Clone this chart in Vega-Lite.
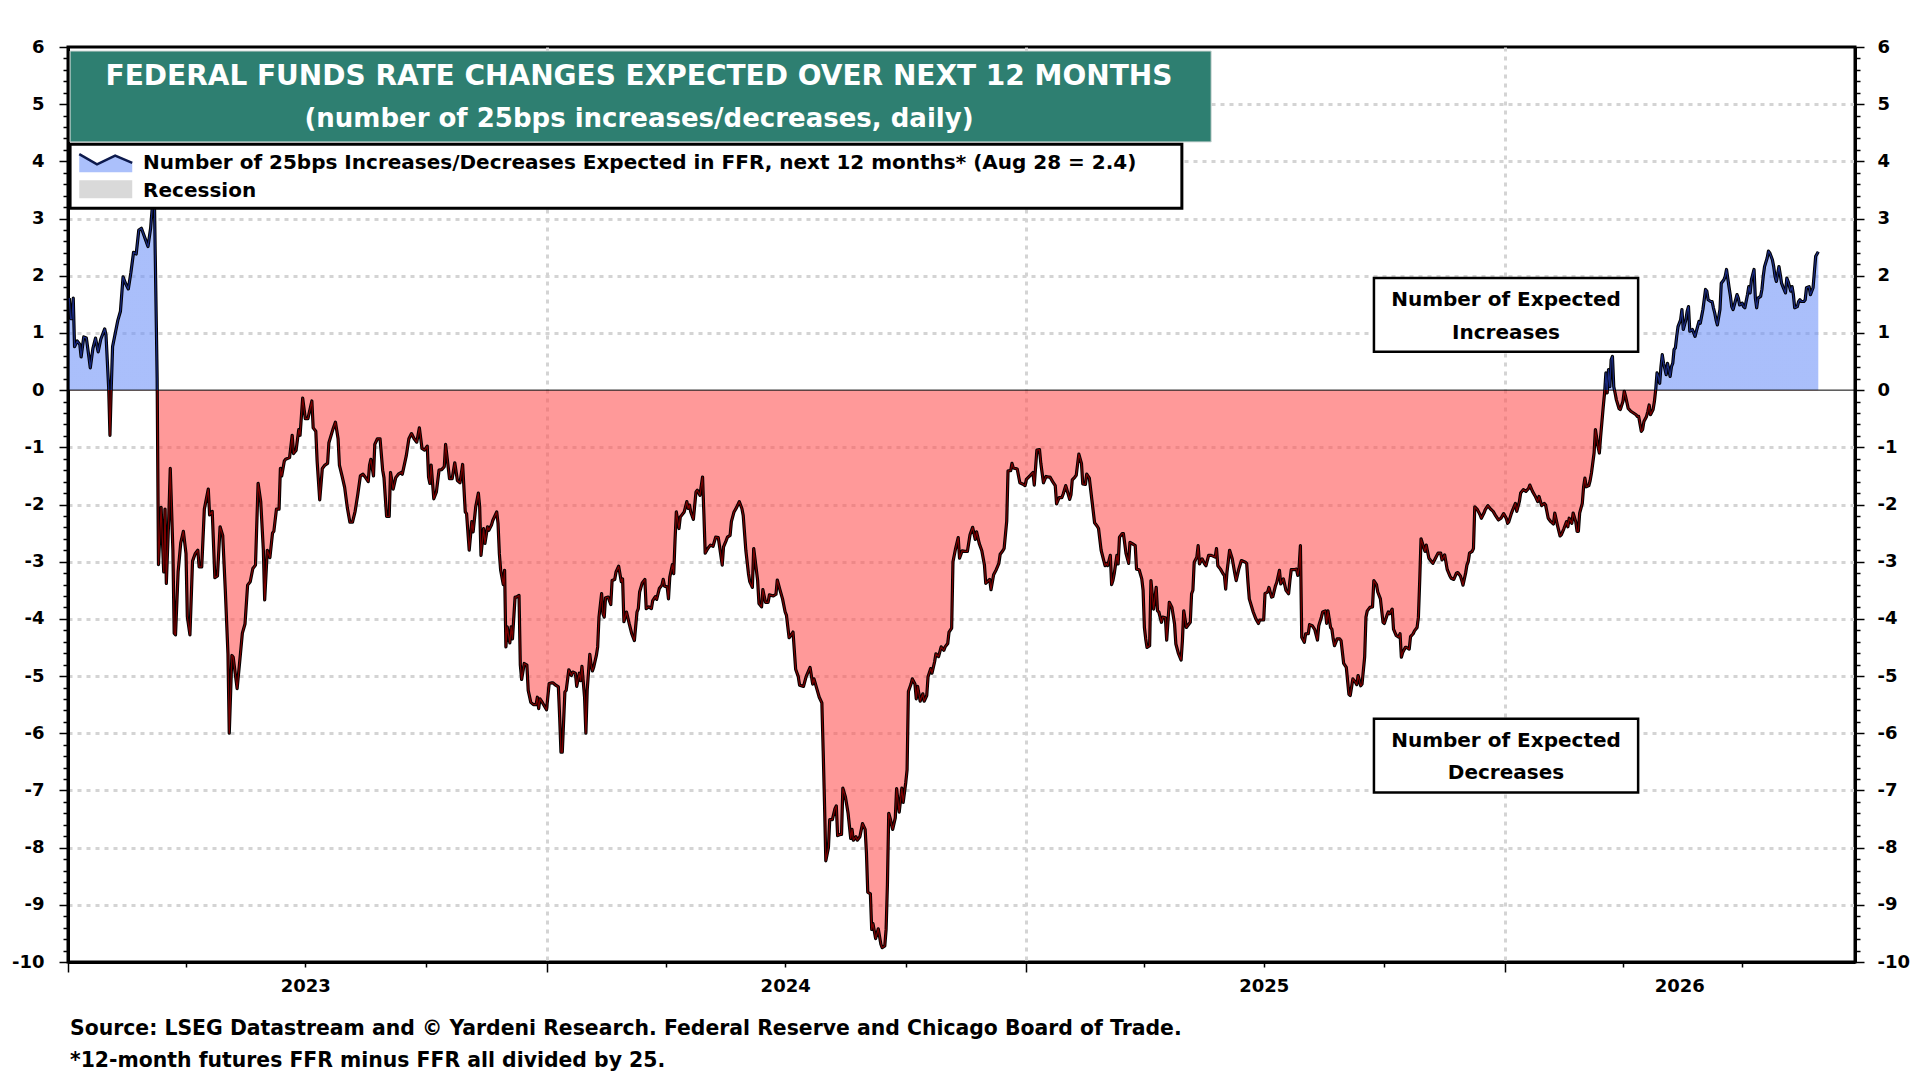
{
  "$schema": "https://vega.github.io/schema/vega-lite/v6.json",
  "width": 1787,
  "height": 915,
  "autosize": {"type": "none"},
  "padding": {"left": 68, "top": 47, "right": 65, "bottom": 118},
  "background": "white",
  "title": {
    "text": ["Source: LSEG Datastream and © Yardeni Research. Federal Reserve and Chicago Board of Trade.", "*12-month futures FFR minus FFR all divided by 25."],
    "orient": "bottom", "anchor": "start", "frame": "group",
    "font": "DejaVu Sans", "fontSize": 20.4, "fontWeight": "bold", "color": "black",
    "lineHeight": 32, "offset": 18.5, "dx": 2
  },
  "config": {
    "font": "DejaVu Sans",
    "view": {"stroke": "black", "strokeWidth": 3},
    "text": {"font": "DejaVu Sans", "fontWeight": "bold"}
  },
  "datasets": {
    "ffr": [
      {"d":"2023-01-02","v":1.61},{"d":"2023-01-03","v":1.25},{"d":"2023-01-04","v":1.25},{"d":"2023-01-05","v":1.61},{"d":"2023-01-06","v":0.76},{"d":"2023-01-08","v":0.86},{"d":"2023-01-10","v":0.80},{"d":"2023-01-11","v":0.58},{"d":"2023-01-13","v":0.93},{"d":"2023-01-15","v":0.91},{"d":"2023-01-17","v":0.57},{"d":"2023-01-18","v":0.39},{"d":"2023-01-20","v":0.73},{"d":"2023-01-22","v":0.91},{"d":"2023-01-24","v":0.67},{"d":"2023-01-26","v":0.89},{"d":"2023-01-29","v":1.07},{"d":"2023-01-30","v":0.96},{"d":"2023-02-01","v":0.05},{"d":"2023-02-02","v":-0.79},{"d":"2023-02-03","v":0.05},{"d":"2023-02-04","v":0.76},{"d":"2023-02-06","v":0.99},{"d":"2023-02-08","v":1.22},{"d":"2023-02-10","v":1.38},{"d":"2023-02-12","v":1.98},{"d":"2023-02-14","v":1.86},{"d":"2023-02-16","v":1.77},{"d":"2023-02-18","v":2.06},{"d":"2023-02-20","v":2.41},{"d":"2023-02-22","v":2.38},{"d":"2023-02-24","v":2.80},{"d":"2023-02-26","v":2.83},{"d":"2023-03-01","v":2.64},{"d":"2023-03-03","v":2.51},{"d":"2023-03-05","v":2.83},{"d":"2023-03-07","v":3.40},{"d":"2023-03-08","v":3.20},{"d":"2023-03-10","v":0.20},{"d":"2023-03-11","v":-3.05},
      {"d":"2023-03-13","v":-2.05},{"d":"2023-03-15","v":-3.18},{"d":"2023-03-16","v":-2.08},{"d":"2023-03-17","v":-3.38},{"d":"2023-03-19","v":-2.15},{"d":"2023-03-20","v":-1.37},{"d":"2023-03-22","v":-2.80},{"d":"2023-03-23","v":-4.25},{"d":"2023-03-24","v":-4.28},{"d":"2023-03-26","v":-3.18},{"d":"2023-03-28","v":-2.67},{"d":"2023-03-30","v":-2.47},{"d":"2023-04-01","v":-2.86},{"d":"2023-04-02","v":-3.96},{"d":"2023-04-04","v":-4.28},{"d":"2023-04-06","v":-2.99},{"d":"2023-04-08","v":-2.86},{"d":"2023-04-10","v":-2.80},{"d":"2023-04-11","v":-3.09},{"d":"2023-04-13","v":-3.09},{"d":"2023-04-15","v":-2.08},{"d":"2023-04-18","v":-1.73},{"d":"2023-04-19","v":-2.18},{"d":"2023-04-21","v":-2.12},{"d":"2023-04-23","v":-3.28},{"d":"2023-04-25","v":-3.25},{"d":"2023-04-27","v":-2.39},{"d":"2023-04-29","v":-2.54},{"d":"2023-05-01","v":-3.51},{"d":"2023-05-03","v":-4.61},{"d":"2023-05-04","v":-6.00},{"d":"2023-05-06","v":-4.64},{"d":"2023-05-07","v":-4.67},{"d":"2023-05-10","v":-5.22},{"d":"2023-05-12","v":-4.74},{"d":"2023-05-14","v":-4.25},{"d":"2023-05-16","v":-4.09},{"d":"2023-05-18","v":-3.41},{"d":"2023-05-20","v":-3.35},{"d":"2023-05-22","v":-3.12},{"d":"2023-05-24","v":-3.06},{"d":"2023-05-26","v":-1.63},{"d":"2023-05-28","v":-1.95},{"d":"2023-05-30","v":-2.80},{"d":"2023-05-31","v":-3.67},
      {"d":"2023-06-02","v":-2.80},{"d":"2023-06-04","v":-2.93},{"d":"2023-06-06","v":-2.50},{"d":"2023-06-07","v":-2.47},{"d":"2023-06-09","v":-2.08},{"d":"2023-06-11","v":-2.08},{"d":"2023-06-12","v":-1.37},{"d":"2023-06-13","v":-1.50},{"d":"2023-06-15","v":-1.24},{"d":"2023-06-16","v":-1.21},{"d":"2023-06-19","v":-1.18},{"d":"2023-06-21","v":-0.79},{"d":"2023-06-22","v":-1.11},{"d":"2023-06-24","v":-1.05},{"d":"2023-06-26","v":-0.69},{"d":"2023-06-27","v":-0.79},{"d":"2023-06-29","v":-0.14},{"d":"2023-07-01","v":-0.50},{"d":"2023-07-03","v":-0.50},{"d":"2023-07-06","v":-0.19},{"d":"2023-07-07","v":-0.66},{"d":"2023-07-09","v":-0.72},{"d":"2023-07-10","v":-1.24},{"d":"2023-07-12","v":-1.92},{"d":"2023-07-14","v":-1.37},{"d":"2023-07-16","v":-1.31},{"d":"2023-07-18","v":-1.28},{"d":"2023-07-19","v":-0.92},{"d":"2023-07-22","v":-0.69},{"d":"2023-07-24","v":-0.56},{"d":"2023-07-26","v":-0.85},{"d":"2023-07-27","v":-1.31},{"d":"2023-07-29","v":-1.50},{"d":"2023-07-31","v":-1.70},{"d":"2023-08-02","v":-2.05},{"d":"2023-08-04","v":-2.31},{"d":"2023-08-06","v":-2.31},{"d":"2023-08-08","v":-2.12},{"d":"2023-08-10","v":-1.83},{"d":"2023-08-12","v":-1.50},{"d":"2023-08-14","v":-1.47},{"d":"2023-08-16","v":-1.53},{"d":"2023-08-18","v":-1.60},{"d":"2023-08-19","v":-1.31},{"d":"2023-08-20","v":-1.21},{"d":"2023-08-22","v":-1.50},{"d":"2023-08-23","v":-0.95},{"d":"2023-08-25","v":-0.85},{"d":"2023-08-27","v":-0.85},{"d":"2023-08-29","v":-1.40},{"d":"2023-08-30","v":-1.53},
      {"d":"2023-09-01","v":-2.21},{"d":"2023-09-03","v":-2.21},{"d":"2023-09-04","v":-1.44},{"d":"2023-09-06","v":-1.73},{"d":"2023-09-08","v":-1.53},{"d":"2023-09-10","v":-1.47},{"d":"2023-09-12","v":-1.44},{"d":"2023-09-13","v":-1.47},{"d":"2023-09-16","v":-1.15},{"d":"2023-09-18","v":-0.85},{"d":"2023-09-20","v":-0.76},{"d":"2023-09-22","v":-0.85},{"d":"2023-09-24","v":-0.91},{"d":"2023-09-26","v":-0.66},{"d":"2023-09-28","v":-1.02},{"d":"2023-09-30","v":-1.05},{"d":"2023-10-02","v":-0.98},{"d":"2023-10-03","v":-1.52},{"d":"2023-10-04","v":-1.63},{"d":"2023-10-05","v":-1.31},{"d":"2023-10-07","v":-1.90},{"d":"2023-10-09","v":-1.78},{"d":"2023-10-11","v":-1.40},{"d":"2023-10-13","v":-1.39},{"d":"2023-10-15","v":-1.34},{"d":"2023-10-16","v":-0.95},{"d":"2023-10-19","v":-1.55},{"d":"2023-10-21","v":-1.55},{"d":"2023-10-23","v":-1.27},{"d":"2023-10-25","v":-1.58},{"d":"2023-10-27","v":-1.62},{"d":"2023-10-29","v":-1.30},{"d":"2023-10-31","v":-2.13},{"d":"2023-11-01","v":-2.16},{"d":"2023-11-03","v":-2.80},{"d":"2023-11-05","v":-2.30},{"d":"2023-11-06","v":-2.48},{"d":"2023-11-08","v":-2.04},{"d":"2023-11-10","v":-1.80},{"d":"2023-11-11","v":-2.04},{"d":"2023-11-12","v":-2.89},{"d":"2023-11-14","v":-2.42},{"d":"2023-11-15","v":-2.68},{"d":"2023-11-17","v":-2.39},{"d":"2023-11-18","v":-2.45},{"d":"2023-11-20","v":-2.36},{"d":"2023-11-21","v":-2.28},{"d":"2023-11-24","v":-2.13},{"d":"2023-11-25","v":-2.33},{"d":"2023-11-26","v":-2.86},{"d":"2023-11-27","v":-3.15},{"d":"2023-11-29","v":-3.40},{"d":"2023-11-30","v":-3.15},
      {"d":"2023-12-01","v":-4.49},{"d":"2023-12-02","v":-4.14},{"d":"2023-12-04","v":-4.42},{"d":"2023-12-05","v":-4.14},{"d":"2023-12-06","v":-4.35},{"d":"2023-12-08","v":-3.62},{"d":"2023-12-09","v":-3.62},{"d":"2023-12-11","v":-3.59},{"d":"2023-12-12","v":-4.81},{"d":"2023-12-13","v":-5.06},{"d":"2023-12-15","v":-4.78},{"d":"2023-12-17","v":-4.81},{"d":"2023-12-18","v":-5.25},{"d":"2023-12-20","v":-5.46},{"d":"2023-12-22","v":-5.50},{"d":"2023-12-24","v":-5.50},{"d":"2023-12-25","v":-5.37},{"d":"2023-12-26","v":-5.57},{"d":"2023-12-27","v":-5.40},{"d":"2023-12-29","v":-5.47},{"d":"2024-01-01","v":-5.59},{"d":"2024-01-03","v":-5.13},{"d":"2024-01-05","v":-5.12},{"d":"2024-01-06","v":-5.12},{"d":"2024-01-08","v":-5.16},{"d":"2024-01-10","v":-5.19},{"d":"2024-01-11","v":-5.72},{"d":"2024-01-12","v":-6.33},{"d":"2024-01-13","v":-6.33},{"d":"2024-01-15","v":-5.28},{"d":"2024-01-16","v":-5.25},{"d":"2024-01-18","v":-4.89},{"d":"2024-01-20","v":-4.99},{"d":"2024-01-21","v":-4.93},{"d":"2024-01-23","v":-4.95},{"d":"2024-01-24","v":-5.18},{"d":"2024-01-26","v":-4.95},{"d":"2024-01-27","v":-5.08},{"d":"2024-01-28","v":-4.83},{"d":"2024-01-30","v":-5.37},{"d":"2024-01-31","v":-6.00},{"d":"2024-02-01","v":-5.25},{"d":"2024-02-03","v":-4.62},{"d":"2024-02-04","v":-4.81},{"d":"2024-02-05","v":-4.91},{"d":"2024-02-06","v":-4.84},{"d":"2024-02-08","v":-4.64},{"d":"2024-02-09","v":-4.49},{"d":"2024-02-10","v":-3.97},{"d":"2024-02-12","v":-3.56},{"d":"2024-02-13","v":-3.91},{"d":"2024-02-14","v":-3.97},{"d":"2024-02-15","v":-3.63},{"d":"2024-02-17","v":-3.62},{"d":"2024-02-19","v":-3.75},{"d":"2024-02-20","v":-3.33},{"d":"2024-02-22","v":-3.31},{"d":"2024-02-23","v":-3.18},{"d":"2024-02-25","v":-3.08},{"d":"2024-02-27","v":-3.35},{"d":"2024-02-28","v":-3.30},{"d":"2024-02-29","v":-4.05},
      {"d":"2024-03-02","v":-3.88},{"d":"2024-03-04","v":-4.08},{"d":"2024-03-06","v":-4.26},{"d":"2024-03-08","v":-4.38},{"d":"2024-03-10","v":-3.88},{"d":"2024-03-11","v":-3.82},{"d":"2024-03-12","v":-3.53},{"d":"2024-03-14","v":-3.37},{"d":"2024-03-16","v":-3.31},{"d":"2024-03-17","v":-3.82},{"d":"2024-03-19","v":-3.79},{"d":"2024-03-21","v":-3.82},{"d":"2024-03-22","v":-3.68},{"d":"2024-03-24","v":-3.61},{"d":"2024-03-25","v":-3.66},{"d":"2024-03-27","v":-3.47},{"d":"2024-03-29","v":-3.41},{"d":"2024-03-30","v":-3.31},{"d":"2024-03-31","v":-3.43},{"d":"2024-04-02","v":-3.44},{"d":"2024-04-03","v":-3.65},{"d":"2024-04-04","v":-3.27},{"d":"2024-04-06","v":-3.05},{"d":"2024-04-07","v":-3.21},{"d":"2024-04-08","v":-2.63},{"d":"2024-04-09","v":-2.13},{"d":"2024-04-11","v":-2.42},{"d":"2024-04-12","v":-2.22},{"d":"2024-04-13","v":-2.19},{"d":"2024-04-15","v":-2.13},{"d":"2024-04-17","v":-1.95},{"d":"2024-04-18","v":-2.07},{"d":"2024-04-19","v":-2.01},{"d":"2024-04-20","v":-2.13},{"d":"2024-04-22","v":-2.26},{"d":"2024-04-24","v":-1.78},{"d":"2024-04-25","v":-1.75},{"d":"2024-04-27","v":-1.84},{"d":"2024-04-29","v":-1.52},{"d":"2024-04-30","v":-2.16},{"d":"2024-05-01","v":-2.85},{"d":"2024-05-03","v":-2.77},{"d":"2024-05-05","v":-2.71},{"d":"2024-05-07","v":-2.73},{"d":"2024-05-09","v":-2.57},{"d":"2024-05-11","v":-2.58},{"d":"2024-05-12","v":-2.74},{"d":"2024-05-14","v":-3.06},{"d":"2024-05-15","v":-2.74},{"d":"2024-05-17","v":-2.63},{"d":"2024-05-18","v":-2.57},{"d":"2024-05-20","v":-2.54},{"d":"2024-05-21","v":-2.30},{"d":"2024-05-23","v":-2.13},{"d":"2024-05-25","v":-2.05},{"d":"2024-05-27","v":-1.95},{"d":"2024-05-29","v":-2.07},{"d":"2024-05-30","v":-2.19},
      {"d":"2024-06-01","v":-2.80},{"d":"2024-06-03","v":-3.21},{"d":"2024-06-04","v":-3.35},{"d":"2024-06-06","v":-3.45},{"d":"2024-06-07","v":-2.77},{"d":"2024-06-08","v":-2.95},{"d":"2024-06-10","v":-3.33},{"d":"2024-06-11","v":-3.73},{"d":"2024-06-13","v":-3.79},{"d":"2024-06-14","v":-3.49},{"d":"2024-06-16","v":-3.71},{"d":"2024-06-18","v":-3.71},{"d":"2024-06-19","v":-3.58},{"d":"2024-06-22","v":-3.60},{"d":"2024-06-24","v":-3.57},{"d":"2024-06-25","v":-3.32},{"d":"2024-06-27","v":-3.49},{"d":"2024-06-29","v":-3.65},{"d":"2024-07-01","v":-3.88},{"d":"2024-07-02","v":-3.94},{"d":"2024-07-04","v":-4.33},{"d":"2024-07-06","v":-4.27},{"d":"2024-07-07","v":-4.23},{"d":"2024-07-09","v":-4.88},{"d":"2024-07-11","v":-5.01},{"d":"2024-07-12","v":-5.16},{"d":"2024-07-15","v":-5.18},{"d":"2024-07-17","v":-5.01},{"d":"2024-07-20","v":-4.85},{"d":"2024-07-22","v":-5.14},{"d":"2024-07-23","v":-5.05},{"d":"2024-07-25","v":-5.21},{"d":"2024-07-27","v":-5.37},{"d":"2024-07-29","v":-5.47},{"d":"2024-07-30","v":-6.31},{"d":"2024-07-31","v":-7.22},{"d":"2024-08-01","v":-8.23},{"d":"2024-08-03","v":-8.00},{"d":"2024-08-04","v":-7.51},{"d":"2024-08-06","v":-7.51},{"d":"2024-08-08","v":-7.32},{"d":"2024-08-09","v":-7.27},{"d":"2024-08-10","v":-7.79},{"d":"2024-08-12","v":-7.77},{"d":"2024-08-13","v":-7.77},{"d":"2024-08-14","v":-6.96},{"d":"2024-08-16","v":-7.12},{"d":"2024-08-18","v":-7.40},{"d":"2024-08-20","v":-7.84},{"d":"2024-08-21","v":-7.68},{"d":"2024-08-22","v":-7.87},{"d":"2024-08-24","v":-7.81},{"d":"2024-08-25","v":-7.87},{"d":"2024-08-27","v":-7.81},{"d":"2024-08-29","v":-7.58},{"d":"2024-08-31","v":-7.68},
      {"d":"2024-09-01","v":-8.10},{"d":"2024-09-02","v":-8.78},{"d":"2024-09-04","v":-8.81},{"d":"2024-09-05","v":-9.43},{"d":"2024-09-06","v":-9.33},{"d":"2024-09-08","v":-9.59},{"d":"2024-09-10","v":-9.42},{"d":"2024-09-12","v":-9.69},{"d":"2024-09-13","v":-9.75},{"d":"2024-09-15","v":-9.72},{"d":"2024-09-16","v":-9.43},{"d":"2024-09-17","v":-8.65},{"d":"2024-09-18","v":-7.40},{"d":"2024-09-19","v":-7.48},{"d":"2024-09-21","v":-7.68},{"d":"2024-09-23","v":-7.48},{"d":"2024-09-24","v":-6.97},{"d":"2024-09-26","v":-7.38},{"d":"2024-09-28","v":-6.96},{"d":"2024-09-29","v":-7.21},{"d":"2024-10-01","v":-6.86},{"d":"2024-10-02","v":-6.64},{"d":"2024-10-03","v":-5.27},{"d":"2024-10-05","v":-5.14},{"d":"2024-10-06","v":-5.05},{"d":"2024-10-08","v":-5.14},{"d":"2024-10-09","v":-5.40},{"d":"2024-10-10","v":-5.18},{"d":"2024-10-12","v":-5.44},{"d":"2024-10-14","v":-5.31},{"d":"2024-10-15","v":-5.44},{"d":"2024-10-17","v":-5.34},{"d":"2024-10-18","v":-5.01},{"d":"2024-10-20","v":-4.87},{"d":"2024-10-21","v":-4.95},{"d":"2024-10-23","v":-4.75},{"d":"2024-10-24","v":-4.61},{"d":"2024-10-26","v":-4.66},{"d":"2024-10-28","v":-4.49},{"d":"2024-10-30","v":-4.55},{"d":"2024-10-31","v":-4.49},{"d":"2024-11-02","v":-4.43},{"d":"2024-11-03","v":-4.23},{"d":"2024-11-05","v":-4.16},{"d":"2024-11-06","v":-3.00},{"d":"2024-11-08","v":-2.77},{"d":"2024-11-10","v":-2.58},{"d":"2024-11-11","v":-2.94},{"d":"2024-11-13","v":-2.81},{"d":"2024-11-15","v":-2.82},{"d":"2024-11-17","v":-2.82},{"d":"2024-11-19","v":-2.53},{"d":"2024-11-21","v":-2.40},{"d":"2024-11-23","v":-2.61},{"d":"2024-11-24","v":-2.48},{"d":"2024-11-26","v":-2.68},{"d":"2024-11-28","v":-2.81},{"d":"2024-11-30","v":-3.06},
      {"d":"2024-12-01","v":-3.38},{"d":"2024-12-04","v":-3.31},{"d":"2024-12-05","v":-3.49},{"d":"2024-12-07","v":-3.23},{"d":"2024-12-09","v":-3.14},{"d":"2024-12-11","v":-3.03},{"d":"2024-12-12","v":-2.87},{"d":"2024-12-14","v":-2.81},{"d":"2024-12-15","v":-2.77},{"d":"2024-12-17","v":-2.29},{"d":"2024-12-18","v":-1.41},{"d":"2024-12-20","v":-1.41},{"d":"2024-12-21","v":-1.28},{"d":"2024-12-22","v":-1.36},{"d":"2024-12-25","v":-1.38},{"d":"2024-12-27","v":-1.62},{"d":"2024-12-29","v":-1.64},{"d":"2024-12-31","v":-1.67},{"d":"2025-01-01","v":-1.56},{"d":"2025-01-04","v":-1.49},{"d":"2025-01-06","v":-1.44},{"d":"2025-01-07","v":-1.66},{"d":"2025-01-09","v":-1.05},{"d":"2025-01-11","v":-1.04},{"d":"2025-01-12","v":-1.28},{"d":"2025-01-14","v":-1.62},{"d":"2025-01-16","v":-1.51},{"d":"2025-01-18","v":-1.52},{"d":"2025-01-19","v":-1.52},{"d":"2025-01-21","v":-1.60},{"d":"2025-01-23","v":-1.67},{"d":"2025-01-24","v":-1.99},{"d":"2025-01-26","v":-1.88},{"d":"2025-01-28","v":-1.88},{"d":"2025-01-29","v":-1.82},{"d":"2025-01-31","v":-1.67},{"d":"2025-02-01","v":-1.75},{"d":"2025-02-03","v":-1.91},{"d":"2025-02-04","v":-1.83},{"d":"2025-02-05","v":-1.57},{"d":"2025-02-07","v":-1.52},{"d":"2025-02-08","v":-1.49},{"d":"2025-02-10","v":-1.12},{"d":"2025-02-12","v":-1.28},{"d":"2025-02-13","v":-1.64},{"d":"2025-02-15","v":-1.65},{"d":"2025-02-16","v":-1.47},{"d":"2025-02-18","v":-1.54},{"d":"2025-02-20","v":-1.93},{"d":"2025-02-22","v":-2.32},{"d":"2025-02-24","v":-2.38},{"d":"2025-02-25","v":-2.42},{"d":"2025-02-27","v":-2.80},
      {"d":"2025-03-01","v":-2.98},{"d":"2025-03-02","v":-3.07},{"d":"2025-03-03","v":-3.03},{"d":"2025-03-04","v":-3.07},{"d":"2025-03-06","v":-2.89},{"d":"2025-03-07","v":-3.40},{"d":"2025-03-08","v":-3.33},{"d":"2025-03-09","v":-3.21},{"d":"2025-03-11","v":-2.89},{"d":"2025-03-12","v":-3.04},{"d":"2025-03-13","v":-2.57},{"d":"2025-03-15","v":-2.51},{"d":"2025-03-16","v":-2.51},{"d":"2025-03-18","v":-2.86},{"d":"2025-03-20","v":-3.03},{"d":"2025-03-21","v":-2.66},{"d":"2025-03-23","v":-2.69},{"d":"2025-03-25","v":-2.72},{"d":"2025-03-26","v":-3.13},{"d":"2025-03-28","v":-3.14},{"d":"2025-03-30","v":-3.30},{"d":"2025-03-31","v":-3.50},{"d":"2025-04-01","v":-4.15},{"d":"2025-04-02","v":-4.35},{"d":"2025-04-03","v":-4.50},{"d":"2025-04-05","v":-4.47},{"d":"2025-04-06","v":-3.33},{"d":"2025-04-08","v":-3.83},{"d":"2025-04-10","v":-3.45},{"d":"2025-04-11","v":-3.86},{"d":"2025-04-12","v":-3.88},{"d":"2025-04-14","v":-4.06},{"d":"2025-04-15","v":-3.97},{"d":"2025-04-17","v":-3.98},{"d":"2025-04-18","v":-4.37},{"d":"2025-04-20","v":-3.71},{"d":"2025-04-22","v":-3.80},{"d":"2025-04-24","v":-4.09},{"d":"2025-04-25","v":-4.44},{"d":"2025-04-27","v":-4.61},{"d":"2025-04-29","v":-4.72},{"d":"2025-04-30","v":-4.38},{"d":"2025-05-01","v":-3.86},{"d":"2025-05-03","v":-4.15},{"d":"2025-05-04","v":-4.12},{"d":"2025-05-06","v":-4.06},{"d":"2025-05-07","v":-3.56},{"d":"2025-05-08","v":-3.50},{"d":"2025-05-09","v":-3.01},{"d":"2025-05-11","v":-2.92},{"d":"2025-05-12","v":-2.72},{"d":"2025-05-13","v":-3.04},{"d":"2025-05-15","v":-2.95},{"d":"2025-05-17","v":-3.04},{"d":"2025-05-18","v":-3.07},{"d":"2025-05-20","v":-2.89},{"d":"2025-05-22","v":-2.89},{"d":"2025-05-25","v":-2.92},{"d":"2025-05-26","v":-2.77},{"d":"2025-05-27","v":-3.07},{"d":"2025-05-29","v":-3.13},{"d":"2025-05-31","v":-3.21},
      {"d":"2025-06-01","v":-3.24},{"d":"2025-06-02","v":-3.48},{"d":"2025-06-03","v":-3.18},{"d":"2025-06-05","v":-2.80},{"d":"2025-06-07","v":-2.95},{"d":"2025-06-09","v":-3.21},{"d":"2025-06-10","v":-3.33},{"d":"2025-06-12","v":-3.13},{"d":"2025-06-14","v":-2.98},{"d":"2025-06-17","v":-3.01},{"d":"2025-06-18","v":-3.03},{"d":"2025-06-19","v":-3.36},{"d":"2025-06-20","v":-3.65},{"d":"2025-06-23","v":-3.88},{"d":"2025-06-25","v":-4.00},{"d":"2025-06-27","v":-4.08},{"d":"2025-06-28","v":-4.02},{"d":"2025-07-01","v":-4.02},{"d":"2025-07-02","v":-3.56},{"d":"2025-07-04","v":-3.53},{"d":"2025-07-05","v":-3.45},{"d":"2025-07-07","v":-3.62},{"d":"2025-07-08","v":-3.61},{"d":"2025-07-10","v":-3.42},{"d":"2025-07-11","v":-3.36},{"d":"2025-07-13","v":-3.15},{"d":"2025-07-14","v":-3.39},{"d":"2025-07-16","v":-3.30},{"d":"2025-07-18","v":-3.50},{"d":"2025-07-20","v":-3.56},{"d":"2025-07-21","v":-3.33},{"d":"2025-07-22","v":-3.14},{"d":"2025-07-24","v":-3.14},{"d":"2025-07-26","v":-3.13},{"d":"2025-07-27","v":-3.24},{"d":"2025-07-28","v":-3.10},{"d":"2025-07-29","v":-2.72},{"d":"2025-07-30","v":-4.32},{"d":"2025-08-01","v":-4.41},{"d":"2025-08-02","v":-4.26},{"d":"2025-08-04","v":-4.26},{"d":"2025-08-05","v":-4.10},{"d":"2025-08-07","v":-4.12},{"d":"2025-08-09","v":-4.19},{"d":"2025-08-11","v":-4.37},{"d":"2025-08-12","v":-4.12},{"d":"2025-08-14","v":-3.97},{"d":"2025-08-15","v":-3.88},{"d":"2025-08-17","v":-3.86},{"d":"2025-08-18","v":-4.08},{"d":"2025-08-19","v":-3.86},{"d":"2025-08-21","v":-4.15},{"d":"2025-08-22","v":-4.18},{"d":"2025-08-23","v":-4.35},{"d":"2025-08-24","v":-4.47},{"d":"2025-08-26","v":-4.35},{"d":"2025-08-28","v":-4.35},{"d":"2025-08-29","v":-4.38},{"d":"2025-08-31","v":-4.78},
      {"d":"2025-09-02","v":-4.85},{"d":"2025-09-04","v":-5.32},{"d":"2025-09-05","v":-5.34},{"d":"2025-09-07","v":-5.05},{"d":"2025-09-09","v":-5.11},{"d":"2025-09-10","v":-5.15},{"d":"2025-09-11","v":-4.99},{"d":"2025-09-13","v":-5.17},{"d":"2025-09-14","v":-5.14},{"d":"2025-09-16","v":-4.67},{"d":"2025-09-17","v":-3.97},{"d":"2025-09-18","v":-3.86},{"d":"2025-09-20","v":-3.80},{"d":"2025-09-22","v":-3.79},{"d":"2025-09-23","v":-3.33},{"d":"2025-09-25","v":-3.40},{"d":"2025-09-26","v":-3.53},{"d":"2025-09-28","v":-3.65},{"d":"2025-09-30","v":-4.06},{"d":"2025-10-01","v":-4.08},{"d":"2025-10-03","v":-3.94},{"d":"2025-10-04","v":-3.88},{"d":"2025-10-05","v":-3.91},{"d":"2025-10-07","v":-3.83},{"d":"2025-10-08","v":-4.18},{"d":"2025-10-10","v":-4.29},{"d":"2025-10-12","v":-4.32},{"d":"2025-10-13","v":-4.26},{"d":"2025-10-14","v":-4.67},{"d":"2025-10-15","v":-4.59},{"d":"2025-10-17","v":-4.50},{"d":"2025-10-18","v":-4.50},{"d":"2025-10-20","v":-4.53},{"d":"2025-10-21","v":-4.31},{"d":"2025-10-23","v":-4.26},{"d":"2025-10-24","v":-4.21},{"d":"2025-10-26","v":-4.15},{"d":"2025-10-27","v":-3.97},{"d":"2025-10-28","v":-3.33},{"d":"2025-10-29","v":-2.60},
      {"d":"2025-11-01","v":-2.82},{"d":"2025-11-02","v":-2.71},{"d":"2025-11-04","v":-2.94},{"d":"2025-11-05","v":-2.97},{"d":"2025-11-07","v":-3.03},{"d":"2025-11-09","v":-2.94},{"d":"2025-11-11","v":-2.85},{"d":"2025-11-13","v":-2.85},{"d":"2025-11-14","v":-2.97},{"d":"2025-11-16","v":-2.88},{"d":"2025-11-18","v":-3.14},{"d":"2025-11-20","v":-3.25},{"d":"2025-11-21","v":-3.29},{"d":"2025-11-23","v":-3.31},{"d":"2025-11-25","v":-3.20},{"d":"2025-11-26","v":-3.19},{"d":"2025-11-28","v":-3.25},{"d":"2025-11-29","v":-3.32},{"d":"2025-11-30","v":-3.41},{"d":"2025-12-02","v":-3.20},{"d":"2025-12-03","v":-3.06},{"d":"2025-12-04","v":-3.00},{"d":"2025-12-05","v":-2.85},{"d":"2025-12-07","v":-2.82},{"d":"2025-12-08","v":-2.77},{"d":"2025-12-09","v":-2.04},{"d":"2025-12-11","v":-2.09},{"d":"2025-12-13","v":-2.18},{"d":"2025-12-14","v":-2.24},{"d":"2025-12-16","v":-2.15},{"d":"2025-12-17","v":-2.09},{"d":"2025-12-19","v":-2.02},{"d":"2025-12-21","v":-2.08},{"d":"2025-12-23","v":-2.12},{"d":"2025-12-25","v":-2.20},{"d":"2025-12-27","v":-2.27},{"d":"2025-12-29","v":-2.24},{"d":"2025-12-31","v":-2.16},
      {"d":"2026-01-02","v":-2.24},{"d":"2026-01-03","v":-2.33},{"d":"2026-01-04","v":-2.30},{"d":"2026-01-06","v":-2.15},{"d":"2026-01-07","v":-2.09},{"d":"2026-01-09","v":-1.98},{"d":"2026-01-10","v":-2.12},{"d":"2026-01-12","v":-1.95},{"d":"2026-01-13","v":-1.80},{"d":"2026-01-15","v":-1.74},{"d":"2026-01-17","v":-1.77},{"d":"2026-01-19","v":-1.72},{"d":"2026-01-20","v":-1.66},{"d":"2026-01-22","v":-1.77},{"d":"2026-01-24","v":-1.85},{"d":"2026-01-26","v":-1.95},{"d":"2026-01-27","v":-1.86},{"d":"2026-01-29","v":-2.02},{"d":"2026-01-31","v":-1.98},{"d":"2026-02-01","v":-2.01},{"d":"2026-02-03","v":-2.24},{"d":"2026-02-05","v":-2.30},{"d":"2026-02-07","v":-2.34},{"d":"2026-02-08","v":-2.15},{"d":"2026-02-10","v":-2.36},{"d":"2026-02-12","v":-2.55},{"d":"2026-02-13","v":-2.53},{"d":"2026-02-15","v":-2.42},{"d":"2026-02-17","v":-2.30},{"d":"2026-02-18","v":-2.39},{"d":"2026-02-19","v":-2.24},{"d":"2026-02-21","v":-2.33},{"d":"2026-02-22","v":-2.15},{"d":"2026-02-24","v":-2.30},{"d":"2026-02-25","v":-2.47},{"d":"2026-02-26","v":-2.47},{"d":"2026-02-27","v":-2.15},{"d":"2026-03-01","v":-1.98},{"d":"2026-03-02","v":-1.69},{"d":"2026-03-03","v":-1.54},{"d":"2026-03-04","v":-1.69},{"d":"2026-03-06","v":-1.67},{"d":"2026-03-07","v":-1.58},{"d":"2026-03-08","v":-1.45},{"d":"2026-03-10","v":-1.10},{"d":"2026-03-11","v":-0.69},{"d":"2026-03-13","v":-0.99},{"d":"2026-03-14","v":-1.10},{"d":"2026-03-15","v":-0.81},{"d":"2026-03-17","v":-0.29},{"d":"2026-03-18","v":-0.05},{"d":"2026-03-19","v":0.30},{"d":"2026-03-20","v":-0.05},{"d":"2026-03-21","v":0.36},{"d":"2026-03-22","v":0.06},{"d":"2026-03-23","v":0.53},{"d":"2026-03-24","v":0.59},{"d":"2026-03-25","v":0.06},{"d":"2026-03-26","v":-0.05},{"d":"2026-03-27","v":-0.17},{"d":"2026-03-29","v":-0.32},{"d":"2026-03-30","v":-0.34},
      {"d":"2026-04-01","v":-0.20},{"d":"2026-04-02","v":-0.02},{"d":"2026-04-03","v":-0.11},{"d":"2026-04-05","v":-0.32},{"d":"2026-04-07","v":-0.37},{"d":"2026-04-09","v":-0.40},{"d":"2026-04-11","v":-0.43},{"d":"2026-04-12","v":-0.46},{"d":"2026-04-13","v":-0.46},{"d":"2026-04-15","v":-0.72},{"d":"2026-04-16","v":-0.69},{"d":"2026-04-17","v":-0.55},{"d":"2026-04-19","v":-0.46},{"d":"2026-04-20","v":-0.37},{"d":"2026-04-21","v":-0.26},{"d":"2026-04-22","v":-0.43},{"d":"2026-04-24","v":-0.34},{"d":"2026-04-25","v":-0.20},{"d":"2026-04-26","v":0.01},{"d":"2026-04-27","v":0.30},{"d":"2026-04-28","v":0.24},{"d":"2026-04-29","v":0.12},{"d":"2026-04-30","v":0.41},{"d":"2026-05-01","v":0.62},{"d":"2026-05-02","v":0.47},{"d":"2026-05-04","v":0.27},{"d":"2026-05-05","v":0.47},{"d":"2026-05-07","v":0.24},{"d":"2026-05-08","v":0.41},{"d":"2026-05-09","v":0.47},{"d":"2026-05-10","v":0.71},{"d":"2026-05-11","v":0.74},{"d":"2026-05-12","v":0.94},{"d":"2026-05-13","v":1.11},{"d":"2026-05-15","v":1.23},{"d":"2026-05-16","v":1.41},{"d":"2026-05-17","v":1.06},{"d":"2026-05-19","v":1.23},{"d":"2026-05-20","v":1.38},{"d":"2026-05-21","v":1.46},{"d":"2026-05-22","v":1.03},{"d":"2026-05-24","v":1.06},{"d":"2026-05-26","v":0.94},{"d":"2026-05-27","v":1.03},{"d":"2026-05-29","v":1.20},{"d":"2026-05-30","v":1.17},{"d":"2026-05-31","v":1.29},
      {"d":"2026-06-01","v":1.41},{"d":"2026-06-03","v":1.76},{"d":"2026-06-04","v":1.73},{"d":"2026-06-05","v":1.58},{"d":"2026-06-07","v":1.55},{"d":"2026-06-08","v":1.55},{"d":"2026-06-09","v":1.44},{"d":"2026-06-10","v":1.35},{"d":"2026-06-11","v":1.23},{"d":"2026-06-12","v":1.14},{"d":"2026-06-14","v":1.41},{"d":"2026-06-15","v":1.87},{"d":"2026-06-17","v":1.93},{"d":"2026-06-18","v":1.99},{"d":"2026-06-19","v":2.11},{"d":"2026-06-21","v":1.79},{"d":"2026-06-22","v":1.64},{"d":"2026-06-23","v":1.46},{"d":"2026-06-24","v":1.41},{"d":"2026-06-26","v":1.58},{"d":"2026-06-27","v":1.67},{"d":"2026-06-28","v":1.61},{"d":"2026-06-29","v":1.49},{"d":"2026-07-01","v":1.52},{"d":"2026-07-02","v":1.46},{"d":"2026-07-03","v":1.44},{"d":"2026-07-05","v":1.67},{"d":"2026-07-06","v":1.81},{"d":"2026-07-07","v":1.70},{"d":"2026-07-08","v":1.93},{"d":"2026-07-10","v":2.11},{"d":"2026-07-11","v":1.61},{"d":"2026-07-12","v":1.44},{"d":"2026-07-13","v":1.61},{"d":"2026-07-15","v":1.64},{"d":"2026-07-16","v":1.76},{"d":"2026-07-17","v":1.99},{"d":"2026-07-18","v":2.16},{"d":"2026-07-20","v":2.31},{"d":"2026-07-21","v":2.43},{"d":"2026-07-22","v":2.40},{"d":"2026-07-24","v":2.28},{"d":"2026-07-25","v":2.16},{"d":"2026-07-26","v":1.99},{"d":"2026-07-27","v":1.90},{"d":"2026-07-29","v":2.16},{"d":"2026-07-30","v":2.02},{"d":"2026-07-31","v":1.87},{"d":"2026-08-01","v":1.81},{"d":"2026-08-03","v":1.70},{"d":"2026-08-04","v":1.96},{"d":"2026-08-05","v":1.90},{"d":"2026-08-07","v":1.73},{"d":"2026-08-08","v":1.81},{"d":"2026-08-09","v":1.67},{"d":"2026-08-10","v":1.44},{"d":"2026-08-12","v":1.46},{"d":"2026-08-13","v":1.55},{"d":"2026-08-14","v":1.58},{"d":"2026-08-15","v":1.55},{"d":"2026-08-17","v":1.55},{"d":"2026-08-18","v":1.58},{"d":"2026-08-19","v":1.79},{"d":"2026-08-21","v":1.81},{"d":"2026-08-22","v":1.67},{"d":"2026-08-23","v":1.73},{"d":"2026-08-24","v":1.79},{"d":"2026-08-26","v":2.34},{"d":"2026-08-28","v":2.42}
    ]
  },
  "layer": [
    {
      "data": {"name": "ffr"},
      "mark": {
        "type": "area", "opacity": 1, "fillOpacity": 0.6,
        "fill": {"gradient": "linear", "x1": 0, "y1": 0, "x2": 0, "y2": 1,
          "stops": [{"offset": 0, "color": "#7194f8"}, {"offset": 0.2586, "color": "#7194f8"}, {"offset": 0.2586, "color": "#ff5555"}, {"offset": 1, "color": "#ff5555"}]}
      },
      "encoding": {
        "x": {
          "field": "d", "type": "temporal",
          "scale": {"domain": [{"year": 2023, "month": 1, "date": 1}, {"year": 2026, "month": 9, "date": 25}], "nice": false},
          "axis": {
            "title": null,
            "values": [1672531200000, 1680307200000, 1688169600000, 1696118400000, 1704067200000, 1711929600000, 1719792000000, 1727740800000, 1735689600000, 1743465600000, 1751328000000, 1759276800000, 1767225600000, 1775001600000, 1782864000000, 1778716800000],
            "labelExpr": "(utcmonth(datum.value) == 6 && utcdate(datum.value) == 1 && utcyear(datum.value) < 2026) || (utcmonth(datum.value) == 4 && utcdate(datum.value) == 14) ? '' + utcyear(datum.value) : ''",
            "tickSize": {"condition": {"test": "utcmonth(datum.value) == 0 && utcdate(datum.value) == 1", "value": 10}, "value": 5},
            "tickOpacity": {"condition": {"test": "utcmonth(datum.value) == 4 && utcdate(datum.value) == 14", "value": 0}, "value": 1},
            "grid": true,
            "gridOpacity": {"condition": {"test": "utcdate(datum.value) == 1 && utcmonth(datum.value) == 0 && datum.value > 1672531200000", "value": 1}, "value": 0},
            "gridColor": "#d4d4d4", "gridDash": [4, 5], "gridWidth": 3,
            "domainColor": "black", "domainWidth": 3, "tickColor": "black", "tickWidth": 1.5,
            "labelFont": "DejaVu Sans", "labelFontSize": 18, "labelFontWeight": "bold", "labelColor": "black",
            "labelPadding": 10.5, "labelOverlap": false, "labelFlush": false, "labelBound": false
          }
        },
        "y": {
          "field": "v", "type": "quantitative",
          "scale": {"domain": [-10, 6], "nice": false, "zero": false},
          "axis": {
            "orient": "left", "title": null,
            "values": [-10,-9.8,-9.6,-9.4,-9.2,-9,-8.8,-8.6,-8.4,-8.2,-8,-7.8,-7.6,-7.4,-7.2,-7,-6.8,-6.6,-6.4,-6.2,-6,-5.8,-5.6,-5.4,-5.2,-5,-4.8,-4.6,-4.4,-4.2,-4,-3.8,-3.6,-3.4,-3.2,-3,-2.8,-2.6,-2.4,-2.2,-2,-1.8,-1.6,-1.4,-1.2,-1,-0.8,-0.6,-0.4,-0.2,0,0.2,0.4,0.6,0.8,1,1.2,1.4,1.6,1.8,2,2.2,2.4,2.6,2.8,3,3.2,3.4,3.6,3.8,4,4.2,4.4,4.6,4.8,5,5.2,5.4,5.6,5.8,6],
            "labelExpr": "abs(datum.value - round(datum.value)) < 0.01 ? '' + round(datum.value) : ''",
            "tickSize": {"condition": {"test": "abs(datum.value - round(datum.value)) < 0.01", "value": 9}, "value": 5},
            "grid": true,
            "gridOpacity": {"condition": {"test": "abs(datum.value - round(datum.value)) < 0.01 && abs(datum.value) > 0.01 && datum.value < 5.9 && datum.value > -9.9", "value": 1}, "value": 0},
            "gridColor": "#d4d4d4", "gridDash": [4, 5], "gridWidth": 3,
            "domainColor": "black", "domainWidth": 3, "tickColor": "black", "tickWidth": 1.5,
            "labelFont": "DejaVu Sans", "labelFontSize": 18, "labelFontWeight": "bold", "labelColor": "black",
            "labelPadding": 15, "labelOverlap": false, "labelBound": false, "labelFlush": false
          }
        },
        "y2": {"datum": 0}
      }
    },
    {
      "data": {"values": [{}]},
      "mark": {"type": "rule", "color": "black", "strokeWidth": 1},
      "encoding": {
        "y": {
          "datum": 0, "type": "quantitative",
          "scale": {"domain": [-10, 6], "nice": false, "zero": false},
          "axis": {
            "orient": "right", "title": null, "grid": false,
            "values": [-10,-9.8,-9.6,-9.4,-9.2,-9,-8.8,-8.6,-8.4,-8.2,-8,-7.8,-7.6,-7.4,-7.2,-7,-6.8,-6.6,-6.4,-6.2,-6,-5.8,-5.6,-5.4,-5.2,-5,-4.8,-4.6,-4.4,-4.2,-4,-3.8,-3.6,-3.4,-3.2,-3,-2.8,-2.6,-2.4,-2.2,-2,-1.8,-1.6,-1.4,-1.2,-1,-0.8,-0.6,-0.4,-0.2,0,0.2,0.4,0.6,0.8,1,1.2,1.4,1.6,1.8,2,2.2,2.4,2.6,2.8,3,3.2,3.4,3.6,3.8,4,4.2,4.4,4.6,4.8,5,5.2,5.4,5.6,5.8,6],
            "labelExpr": "abs(datum.value - round(datum.value)) < 0.01 ? '' + round(datum.value) : ''",
            "tickSize": {"condition": {"test": "abs(datum.value - round(datum.value)) < 0.01", "value": 9}, "value": 5},
            "domainColor": "black", "domainWidth": 3, "tickColor": "black", "tickWidth": 1.5,
            "labelFont": "DejaVu Sans", "labelFontSize": 18, "labelFontWeight": "bold", "labelColor": "black",
            "labelPadding": 13, "labelOverlap": false, "labelBound": false, "labelFlush": false
          }
        }
      }
    },
    {
      "data": {"name": "ffr"},
      "mark": {"type": "line", "color": "black", "strokeWidth": 3.2, "strokeJoin": "round"},
      "encoding": {
        "x": {"field": "d", "type": "temporal", "scale": {"domain": [{"year": 2023, "month": 1, "date": 1}, {"year": 2026, "month": 9, "date": 25}], "nice": false}, "axis": null},
        "y": {"field": "v", "type": "quantitative", "scale": {"domain": [-10, 6], "nice": false, "zero": false}, "axis": null}
      }
    },
    {
      "data": {"name": "ffr"},
      "mark": {
        "type": "line", "strokeWidth": 1.2, "strokeJoin": "round",
        "stroke": {"gradient": "linear", "x1": 0, "y1": 0, "x2": 0, "y2": 1,
          "stops": [{"offset": 0, "color": "#1a2a80"}, {"offset": 0.2586, "color": "#1a2a80"}, {"offset": 0.2586, "color": "#7a0000"}, {"offset": 1, "color": "#7a0000"}]}
      },
      "encoding": {
        "x": {"field": "d", "type": "temporal", "scale": {"domain": [{"year": 2023, "month": 1, "date": 1}, {"year": 2026, "month": 9, "date": 25}], "nice": false}, "axis": null},
        "y": {"field": "v", "type": "quantitative", "scale": {"domain": [-10, 6], "nice": false, "zero": false}, "axis": null}
      }
    },
    {
      "data": {"values": [{}]},
      "mark": {"type": "rect", "fill": "#2e7f71", "stroke": "#cfd8d6", "strokeWidth": 1},
      "encoding": {
        "x": {"datum": {"year": 2023, "month": 1, "date": 2, "hours": 14}, "type": "temporal", "scale": {"domain": [{"year": 2023, "month": 1, "date": 1}, {"year": 2026, "month": 9, "date": 25}], "nice": false}, "axis": null},
        "x2": {"datum": {"year": 2025, "month": 5, "date": 21, "hours": 22}},
        "y": {"datum": 5.93, "type": "quantitative", "scale": {"domain": [-10, 6], "nice": false, "zero": false}, "axis": null},
        "y2": {"datum": 4.34}
      }
    },
    {
      "data": {"values": [{}]},
      "mark": {"type": "text", "color": "white", "fontSize": 28, "align": "center", "baseline": "alphabetic"},
      "encoding": {
        "x": {"datum": {"year": 2024, "month": 3, "date": 11, "hours": 12}, "type": "temporal", "scale": {"domain": [{"year": 2023, "month": 1, "date": 1}, {"year": 2026, "month": 9, "date": 25}], "nice": false}, "axis": null},
        "y": {"datum": 5.34, "type": "quantitative", "scale": {"domain": [-10, 6], "nice": false, "zero": false}, "axis": null},
        "text": {"value": "FEDERAL FUNDS RATE CHANGES EXPECTED OVER NEXT 12 MONTHS"}
      }
    },
    {
      "data": {"values": [{}]},
      "mark": {"type": "text", "color": "white", "fontSize": 26, "align": "center", "baseline": "alphabetic"},
      "encoding": {
        "x": {"datum": {"year": 2024, "month": 3, "date": 11, "hours": 12}, "type": "temporal", "scale": {"domain": [{"year": 2023, "month": 1, "date": 1}, {"year": 2026, "month": 9, "date": 25}], "nice": false}, "axis": null},
        "y": {"datum": 4.607, "type": "quantitative", "scale": {"domain": [-10, 6], "nice": false, "zero": false}, "axis": null},
        "text": {"value": "(number of 25bps increases/decreases, daily)"}
      }
    },
    {
      "data": {"values": [{}]},
      "mark": {"type": "rect", "fill": "white", "stroke": "black", "strokeWidth": 3},
      "encoding": {
        "x": {"datum": {"year": 2023, "month": 1, "date": 2, "hours": 14}, "type": "temporal", "scale": {"domain": [{"year": 2023, "month": 1, "date": 1}, {"year": 2026, "month": 9, "date": 25}], "nice": false}, "axis": null},
        "x2": {"datum": {"year": 2025, "month": 4, "date": 29, "hours": 14}},
        "y": {"datum": 4.30, "type": "quantitative", "scale": {"domain": [-10, 6], "nice": false, "zero": false}, "axis": null},
        "y2": {"datum": 3.18}
      }
    },
    {
      "data": {"values": [{}]},
      "mark": {"type": "point", "shape": "M-1,-0.34L-0.33,0.04L0.355,-0.29L1,-0.01L1,0.34L-1,0.34Z", "filled": true, "color": "#abc0fb", "size": 2809, "opacity": 1, "strokeWidth": 0},
      "encoding": {
        "x": {"datum": {"year": 2023, "month": 1, "date": 29, "hours": 19}, "type": "temporal", "scale": {"domain": [{"year": 2023, "month": 1, "date": 1}, {"year": 2026, "month": 9, "date": 25}], "nice": false}, "axis": null},
        "y": {"datum": 3.968, "type": "quantitative", "scale": {"domain": [-10, 6], "nice": false, "zero": false}, "axis": null}
      }
    },
    {
      "data": {"values": [{}]},
      "mark": {"type": "point", "shape": "M-1,-0.34L-0.33,0.04L0.355,-0.29L1,-0.01", "filled": false, "stroke": "#0d1a4d", "strokeWidth": 2.5, "size": 2809, "opacity": 1},
      "encoding": {
        "x": {"datum": {"year": 2023, "month": 1, "date": 29, "hours": 19}, "type": "temporal", "scale": {"domain": [{"year": 2023, "month": 1, "date": 1}, {"year": 2026, "month": 9, "date": 25}], "nice": false}, "axis": null},
        "y": {"datum": 3.968, "type": "quantitative", "scale": {"domain": [-10, 6], "nice": false, "zero": false}, "axis": null}
      }
    },
    {
      "data": {"values": [{}]},
      "mark": {"type": "point", "shape": "M-1,-0.34L1,-0.34L1,0.34L-1,0.34Z", "filled": true, "color": "#d9d9d9", "size": 2809, "opacity": 1, "strokeWidth": 0},
      "encoding": {
        "x": {"datum": {"year": 2023, "month": 1, "date": 29, "hours": 19}, "type": "temporal", "scale": {"domain": [{"year": 2023, "month": 1, "date": 1}, {"year": 2026, "month": 9, "date": 25}], "nice": false}, "axis": null},
        "y": {"datum": 3.514, "type": "quantitative", "scale": {"domain": [-10, 6], "nice": false, "zero": false}, "axis": null}
      }
    },
    {
      "data": {"values": [{}]},
      "mark": {"type": "text", "color": "black", "fontSize": 20, "align": "left", "baseline": "alphabetic"},
      "encoding": {
        "x": {"datum": {"year": 2023, "month": 2, "date": 27, "hours": 7}, "type": "temporal", "scale": {"domain": [{"year": 2023, "month": 1, "date": 1}, {"year": 2026, "month": 9, "date": 25}], "nice": false}, "axis": null},
        "y": {"datum": 3.86, "type": "quantitative", "scale": {"domain": [-10, 6], "nice": false, "zero": false}, "axis": null},
        "text": {"value": "Number of 25bps Increases/Decreases Expected in FFR, next 12 months* (Aug 28 = 2.4)"}
      }
    },
    {
      "data": {"values": [{}]},
      "mark": {"type": "text", "color": "black", "fontSize": 20, "align": "left", "baseline": "alphabetic"},
      "encoding": {
        "x": {"datum": {"year": 2023, "month": 2, "date": 27, "hours": 7}, "type": "temporal", "scale": {"domain": [{"year": 2023, "month": 1, "date": 1}, {"year": 2026, "month": 9, "date": 25}], "nice": false}, "axis": null},
        "y": {"datum": 3.38, "type": "quantitative", "scale": {"domain": [-10, 6], "nice": false, "zero": false}, "axis": null},
        "text": {"value": "Recession"}
      }
    },
    {
      "data": {"values": [{}]},
      "mark": {"type": "rect", "fill": "white", "stroke": "black", "strokeWidth": 2.5},
      "encoding": {
        "x": {"datum": {"year": 2025, "month": 9, "date": 23, "hours": 2}, "type": "temporal", "scale": {"domain": [{"year": 2023, "month": 1, "date": 1}, {"year": 2026, "month": 9, "date": 25}], "nice": false}, "axis": null},
        "x2": {"datum": {"year": 2026, "month": 4, "date": 12, "hours": 14}},
        "y": {"datum": 1.96, "type": "quantitative", "scale": {"domain": [-10, 6], "nice": false, "zero": false}, "axis": null},
        "y2": {"datum": 0.67}
      }
    },
    {
      "data": {"values": [{}]},
      "mark": {"type": "text", "color": "black", "fontSize": 20, "align": "center", "baseline": "alphabetic"},
      "encoding": {
        "x": {"datum": {"year": 2026, "month": 1, "date": 1, "hours": 19}, "type": "temporal", "scale": {"domain": [{"year": 2023, "month": 1, "date": 1}, {"year": 2026, "month": 9, "date": 25}], "nice": false}, "axis": null},
        "y": {"datum": 1.469, "type": "quantitative", "scale": {"domain": [-10, 6], "nice": false, "zero": false}, "axis": null},
        "text": {"value": "Number of Expected"}
      }
    },
    {
      "data": {"values": [{}]},
      "mark": {"type": "text", "color": "black", "fontSize": 20, "align": "center", "baseline": "alphabetic"},
      "encoding": {
        "x": {"datum": {"year": 2026, "month": 1, "date": 1, "hours": 19}, "type": "temporal", "scale": {"domain": [{"year": 2023, "month": 1, "date": 1}, {"year": 2026, "month": 9, "date": 25}], "nice": false}, "axis": null},
        "y": {"datum": 0.895, "type": "quantitative", "scale": {"domain": [-10, 6], "nice": false, "zero": false}, "axis": null},
        "text": {"value": "Increases"}
      }
    },
    {
      "data": {"values": [{}]},
      "mark": {"type": "rect", "fill": "white", "stroke": "black", "strokeWidth": 2.5},
      "encoding": {
        "x": {"datum": {"year": 2025, "month": 9, "date": 23, "hours": 2}, "type": "temporal", "scale": {"domain": [{"year": 2023, "month": 1, "date": 1}, {"year": 2026, "month": 9, "date": 25}], "nice": false}, "axis": null},
        "x2": {"datum": {"year": 2026, "month": 4, "date": 12, "hours": 14}},
        "y": {"datum": -5.745, "type": "quantitative", "scale": {"domain": [-10, 6], "nice": false, "zero": false}, "axis": null},
        "y2": {"datum": -7.035}
      }
    },
    {
      "data": {"values": [{}]},
      "mark": {"type": "text", "color": "black", "fontSize": 20, "align": "center", "baseline": "alphabetic"},
      "encoding": {
        "x": {"datum": {"year": 2026, "month": 1, "date": 1, "hours": 19}, "type": "temporal", "scale": {"domain": [{"year": 2023, "month": 1, "date": 1}, {"year": 2026, "month": 9, "date": 25}], "nice": false}, "axis": null},
        "y": {"datum": -6.236, "type": "quantitative", "scale": {"domain": [-10, 6], "nice": false, "zero": false}, "axis": null},
        "text": {"value": "Number of Expected"}
      }
    },
    {
      "data": {"values": [{}]},
      "mark": {"type": "text", "color": "black", "fontSize": 20, "align": "center", "baseline": "alphabetic"},
      "encoding": {
        "x": {"datum": {"year": 2026, "month": 1, "date": 1, "hours": 19}, "type": "temporal", "scale": {"domain": [{"year": 2023, "month": 1, "date": 1}, {"year": 2026, "month": 9, "date": 25}], "nice": false}, "axis": null},
        "y": {"datum": -6.801, "type": "quantitative", "scale": {"domain": [-10, 6], "nice": false, "zero": false}, "axis": null},
        "text": {"value": "Decreases"}
      }
    }
  ],
  "resolve": {"axis": {"x": "independent", "y": "independent"}}
}
